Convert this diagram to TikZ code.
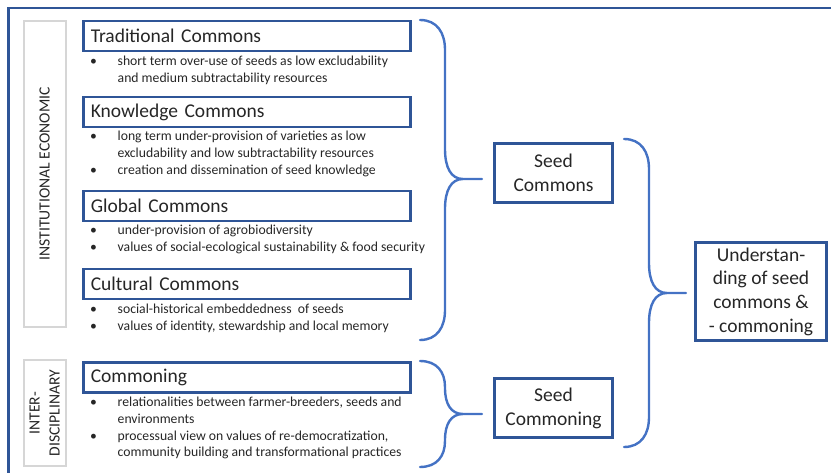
\documentclass[tikz,border=0pt]{standalone}
\usepackage{fontspec}
\setmainfont{Carlito}
\usepackage{array}

\definecolor{boxblue}{HTML}{2F5597}
\definecolor{braceblue}{HTML}{4472C4}
\definecolor{framegray}{HTML}{D6D6D6}
\definecolor{ink}{HTML}{262626}

% bullet list set as a two-column table: bullet, then text
\newcommand\bulletlist[1]{\begin{tabular}{@{}p{27.5pt}@{}l@{}}#1\end{tabular}}

% curly brace: x0, xv, ytop, ytip, ybot, xtip, bend
\newcommand\curlybrace[7]{%
  \draw[bracestyle]
    (#1,#3) .. controls ({#1+0.68*(#2-#1)},#3) and (#2,{#3+0.42*#7}) .. (#2,{#3+#7})
    -- (#2,{#4-#7}) .. controls (#2,{#4-0.38*#7}) and ({#2+6},#4) .. ({#2+18},#4)
    -- (#6,#4)
    ({#2+18},#4) .. controls ({#2+6},#4) and (#2,{#4+0.38*#7}) .. (#2,{#4+#7})
    -- (#2,{#5-#7}) .. controls (#2,{#5-0.42*#7}) and ({#1+0.68*(#2-#1)},#5) .. (#1,#5);}

\begin{document}
\begin{tikzpicture}[x=1pt,y=-1pt,
  every node/.style={text=ink, inner sep=0pt},
  header/.style={draw=boxblue, line width=2.8pt, minimum width=326.7pt,
    minimum height=30pt, inner xsep=7.2pt, text width=312.3pt, align=left,
    font=\fontsize{19.5}{23}\selectfont},
  bullets/.style={anchor=west, font=\fontsize{13.7}{16.7}\selectfont},
  sidelabel/.style={draw=framegray, line width=2pt, minimum width=42pt},
  sidetext/.style={rotate=90, align=center, font=\fontsize{15.6}{20}\selectfont},
  result/.style={draw=boxblue, line width=2.8pt, align=center,
    font=\fontsize{19.5}{24}\selectfont},
  bracestyle/.style={draw=braceblue, line width=2.4pt, line cap=round}]

\useasboundingbox (0,0) rectangle (831,473);

% outer frame, running off the right and bottom edges
\draw[boxblue, line width=2.6pt] (8.5,480) -- (8.5,8) -- (840,8);

% discipline labels
\node[sidelabel, minimum height=306pt] (inst) at (44.7,174) {};
\node[sidetext] (instT) at (inst.center) {INSTITUTIONAL ECONOMIC};
\node[sidelabel, minimum height=106pt] (inter) at (44.7,413) {};
\node[sidetext] (interT) at (inter.center) {INTER-\\DISCIPLINARY};

% commons headers
\node[header] (trad) at (246.9,36) {Traditional Commons};
\node[header] (know) at (246.9,112) {Knowledge Commons};
\node[header] (glob) at (246.9,206) {Global Commons};
\node[header] (cult) at (246.9,284) {Cultural Commons};
\node[header] (comm) at (246.9,377.5) {Commoning};

% descriptions
\node[bullets] (tradL) at (90,71) {\bulletlist{%
  \textbullet & short term over-use of seeds as low excludability\\
  & and medium subtractability resources}};
\node[bullets] (knowL) at (90,154) {\bulletlist{%
  \textbullet & long term under-provision of varieties as low\\
  & excludability and low subtractability resources\\
  \textbullet & creation and dissemination of seed knowledge}};
\node[bullets] (globL) at (90,240) {\bulletlist{%
  \textbullet & under-provision of agrobiodiversity\\
  \textbullet & values of social-ecological sustainability \& food security}};
\node[bullets] (cultL) at (90,318.5) {\bulletlist{%
  \textbullet & social-historical embeddedness\ \ of seeds\\
  \textbullet & values of identity, stewardship and local memory}};
\node[bullets] (commL) at (90,428.5) {\bulletlist{%
  \textbullet & relationalities between farmer-breeders,\ seeds and\\
  & environments\\
  \textbullet & processual view on values of re-democratization,\\
  & community building and transformational\ practices}};

% syntheses
\node[result, minimum width=118pt, minimum height=59pt] (seedc) at (553.5,173) {Seed\\Commons};
\node[result, minimum width=118pt, minimum height=59pt] (seedg) at (553.5,408) {Seed\\Commoning};
\node[result, minimum width=131pt, minimum height=98pt,
  font=\fontsize{19.5}{23.7}\selectfont] (under) at (761,291.5)
  {Understan-\\ding of seed\\commons \&\\- commoning};

% grouping braces
\curlybrace{420}{445}{20}{179}{340}{482}{30}
\curlybrace{420}{445}{361}{414}{467}{482}{26}
\curlybrace{624}{649}{139}{293}{447}{686}{30}

\end{tikzpicture}
\end{document}
